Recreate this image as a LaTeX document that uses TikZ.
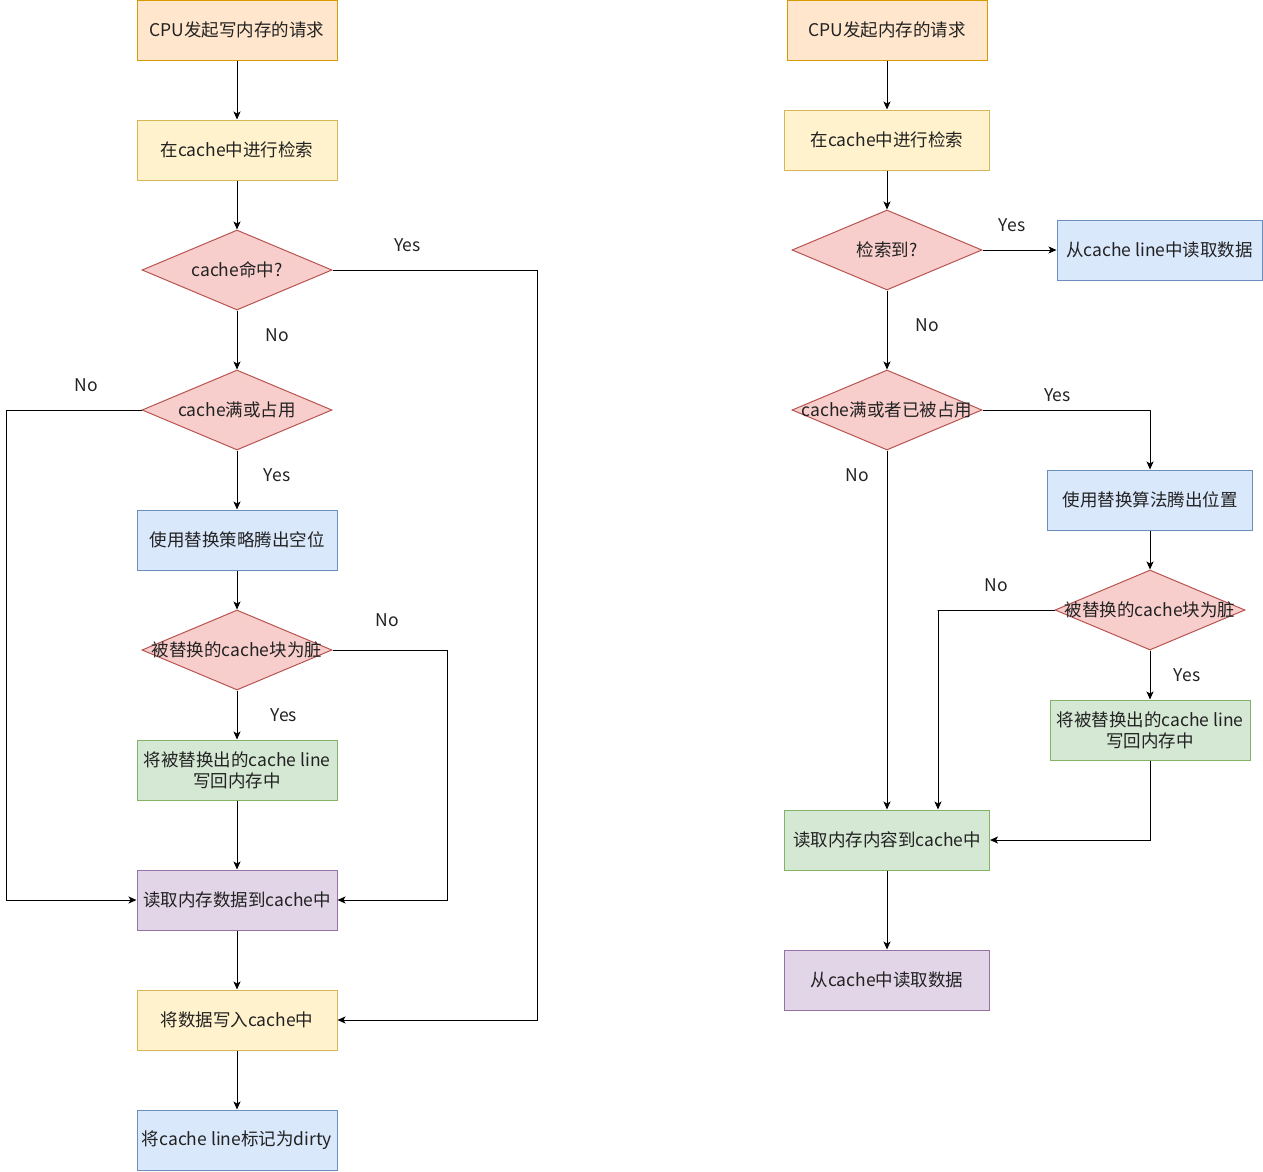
\documentclass[tikz,border=0pt]{standalone}
\usepackage{fontspec}
\setmainfont{Noto Sans CJK SC}
\usetikzlibrary{arrows.meta,shapes.geometric}

\definecolor{orangefill}{HTML}{FFE6CC}
\definecolor{orangeline}{HTML}{D79B00}
\definecolor{yellowfill}{HTML}{FFF2CC}
\definecolor{yellowline}{HTML}{D6B656}
\definecolor{bluefill}{HTML}{DAE8FC}
\definecolor{blueline}{HTML}{6C8EBF}
\definecolor{greenfill}{HTML}{D5E8D4}
\definecolor{greenline}{HTML}{82B366}
\definecolor{purplefill}{HTML}{E1D5E7}
\definecolor{purpleline}{HTML}{9673A6}
\definecolor{redfill}{HTML}{F8CECC}
\definecolor{redline}{HTML}{B85450}
\definecolor{txt}{HTML}{222222}

\begin{document}
\begin{tikzpicture}[x=1pt,y=-1pt,line width=1pt,
  every node/.style={font=\fontsize{17.5}{21}\selectfont,text=txt},
  box/.style={draw,rectangle,minimum width=200pt,minimum height=60pt,inner sep=0pt,align=center},
  startbox/.style={box,fill=orangefill,draw=orangeline},
  searchbox/.style={box,fill=yellowfill,draw=yellowline},
  bluebox/.style={box,fill=bluefill,draw=blueline},
  greenbox/.style={box,fill=greenfill,draw=greenline},
  purplebox/.style={box,fill=purplefill,draw=purpleline},
  decision/.style={draw=redline,fill=redfill,diamond,minimum width=190pt,minimum height=80pt,inner sep=0pt},
  >={Stealth[length=8pt,width=7pt,inset=2pt]}]
\useasboundingbox (0,0) rectangle (1263,1171);

% write request
\node[startbox] (l1) at (237,30) {CPU发起写内存的请求};
\node[searchbox] (l2) at (237,150) {在cache中进行检索};
\node[decision,label=center:{cache命中?}] (d1) at (237,270) {};
\node[decision,label=center:{cache满或占用}] (d2) at (237,410) {};
\node[bluebox] (l3) at (237,540) {使用替换策略腾出空位};
\node[decision,label=center:{被替换的cache块为脏}] (d3) at (237,650) {};
\node[greenbox] (l4) at (237,770) {将被替换出的cache line\\写回内存中};
\node[purplebox] (l5) at (237,900) {读取内存数据到cache中};
\node[searchbox] (l6) at (237,1020) {将数据写入cache中};
\node[bluebox] (l7) at (237,1140) {将cache line标记为dirty};

\draw[->] (l1) -- (l2);
\draw[->] (l2) -- (d1);
\draw[->] (d1.east) -- node[xshift=-27.5pt,yshift=25pt] {Yes} ++(205,0) |- (l6.east);
\draw[->] (d1) -- node[xshift=40pt,yshift=5pt] {No} (d2);
\draw[->] (d2.west) -- node[xshift=12.5pt,yshift=25pt] {No} ++(-135,0) |- (l5.west);
\draw[->] (d2) -- node[xshift=40pt,yshift=5pt] {Yes} (l3);
\draw[->] (l3) -- (d3);
\draw[->] (d3.east) -- node[xshift=-2.5pt,yshift=30pt] {No} ++(115,0) |- (l5.east);
\draw[->] (d3) -- node[xshift=47pt] {Yes} (l4);
\draw[->] (l4) -- (l5);
\draw[->] (l5) -- (l6);
\draw[->] (l6) -- (l7);

% read request
\node[startbox] (r1) at (887,30) {CPU发起内存的请求};
\node[searchbox,minimum width=205pt] (r2) at (887,140) {在cache中进行检索};
\node[decision,label=center:{检索到?}] (rd1) at (887,250) {};
\node[bluebox,minimum width=205pt] (r3) at (1159.5,250) {从cache line中读取数据};
\node[decision,label=center:{cache满或者已被占用}] (rd2) at (887,410) {};
\node[bluebox,minimum width=205pt] (r4) at (1150,500) {使用替换算法腾出位置};
\node[decision,label=center:{被替换的cache块为脏}] (rd3) at (1150,610) {};
\node[greenbox] (r5) at (1150,730) {将被替换出的cache line\\写回内存中};
\node[greenbox,minimum width=205pt] (r6) at (887,840) {读取内存内容到cache中};
\node[purplebox,minimum width=205pt] (r7) at (887,980) {从cache中读取数据};

\draw[->] (r1) -- (r2);
\draw[->] (r2) -- (rd1);
\draw[->] (rd1) -- node[xshift=-7.5pt,yshift=25pt] {Yes} (r3);
\draw[->] (rd1) -- node[xshift=40pt,yshift=5pt] {No} (rd2);
\draw[->] (rd2.east) -- node[xshift=-9pt,yshift=15pt] {Yes} ++(168,0) -| (r4.north);
\draw[->] (rd2.south) -- node[pos=0.07,xshift=-30pt] {No} (rd2.south |- r6.north);
\draw[->] (r4) -- (rd3);
\draw[->] (rd3.west) -- node[yshift=25pt] {No} ++(-117,0) -| ([xshift=51pt]r6.north);
\draw[->] (rd3) -- node[xshift=37pt] {Yes} (r5);
\draw[->] (r5.south) |- (r6.east);
\draw[->] (r6) -- (r7);
\end{tikzpicture}
\end{document}
